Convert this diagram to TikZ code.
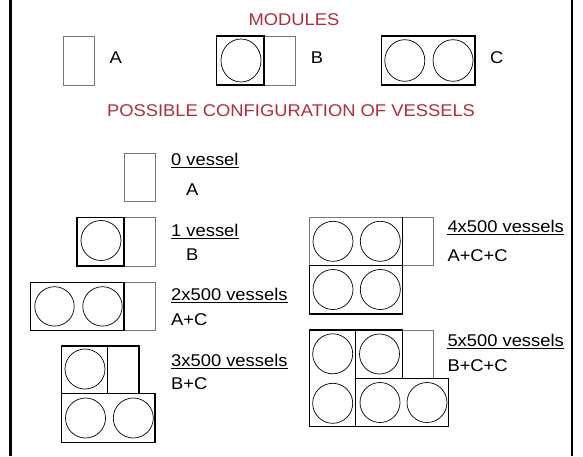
\documentclass[tikz,border=0pt]{standalone}
\usepackage{fontspec}
\setmainfont[FakeStretch=1.08]{Liberation Sans}
\definecolor{ttlred}{RGB}{178,44,62}
\definecolor{boxgray}{RGB}{120,120,120}
\tikzset{
  modbox/.style={draw=black, line width=1.3pt},
  abox/.style={draw=boxgray, line width=0.9pt},
  vessel/.style={draw=black, line width=0.7pt},
  lbl/.style={font=\fontsize{17}{20}\selectfont, anchor=base west, inner sep=0pt},
  ttl/.style={font=\fontsize{17}{20}\selectfont, anchor=base, inner sep=0pt, text=ttlred},
  frame/.style={draw=black, line width=2.4pt}
}
\begin{document}
\begin{tikzpicture}[x=1pt,y=-1pt]
\useasboundingbox (0,0) rectangle (583,456);
% frame
\coordinate (fl1) at (10.5,0); \coordinate (fl2) at (10.5,456);
\coordinate (fr1) at (572,0); \coordinate (fr2) at (572,456);
\draw[frame] (fl1) -- (fl2);
\draw[frame] (fr1) -- (fr2);

% titles
\node[ttl] (tmod) at (294,25) {MODULES};
\node[ttl] (tconf) at (291,116.5) {POSSIBLE CONFIGURATION OF VESSELS};

% modules row
\draw[abox] (63.3,36) rectangle (94.3,85);
\node[lbl] (mA) at (109.3,63.3) {A};

\draw[abox] (264,36) rectangle (295,85);
\draw[modbox] (216.7,36) rectangle (264,85);
\draw[vessel] (241,60.5) ellipse [x radius=20, y radius=21.5];
\node[lbl] (mB) at (310.7,63.3) {B};

\draw[modbox] (381.8,36) rectangle (475,85);
\draw[vessel] (404.8,60.5) ellipse [x radius=20, y radius=20.8];
\draw[vessel] (453,60.5) ellipse [x radius=20, y radius=20.8];
\node[lbl] (mC) at (490,63.3) {C};

% 0 vessel
\draw[abox] (124,153.3) rectangle (155,201.7);
\node[lbl] (l0) at (171,165.5) {0 vessel};
\draw[line width=0.8pt] ([yshift=-2pt]l0.base west) -- ([yshift=-2pt]l0.base east);
\node[lbl] (l0b) at (186,195) {A};

% 1 vessel
\draw[abox] (124,217.7) rectangle (155,266);
\draw[modbox] (77,217.7) rectangle (124,266);
\draw[vessel] (101,240.5) circle [radius=20];
\node[lbl] (l1) at (171,236) {1 vessel};
\draw[line width=0.8pt] ([yshift=-2pt]l1.base west) -- ([yshift=-2pt]l1.base east);
\node[lbl] (l1b) at (186,260) {B};

% 2x500
\draw[abox] (124,282.3) rectangle (155,330.5);
\draw[modbox] (30.7,282.3) rectangle (124,330.5);
\draw[vessel] (54.5,306.4) circle [radius=19.7];
\draw[vessel] (102.5,306.4) circle [radius=19.7];
\node[lbl] (l2) at (171,300) {2x500 vessels};
\draw[line width=0.8pt] ([yshift=-2pt]l2.base west) -- ([yshift=-2pt]l2.base east);
\node[lbl] (l2b) at (171,325) {A+C};

% 3x500
\draw[modbox] (107.7,346) rectangle (139,393.3);
\draw[modbox] (61.7,346) rectangle (107.7,393.3);
\draw[modbox] (61.7,393.3) rectangle (155,442.7);
\draw[vessel] (85,369) circle [radius=20];
\draw[vessel] (85.5,418) circle [radius=20];
\draw[vessel] (133.3,418) circle [radius=20];
\node[lbl] (l3) at (171,366.7) {3x500 vessels};
\draw[line width=0.8pt] ([yshift=-2pt]l3.base west) -- ([yshift=-2pt]l3.base east);
\node[lbl] (l3b) at (171,389.3) {B+C};

% 4x500
\draw[abox] (402.3,217.3) rectangle (433.3,265.7);
\draw[abox] (309.3,217.3) rectangle (402.3,265.7);
\draw[modbox] (402.3,217.3) -- (402.3,265.7);
\draw[modbox] (309.3,265.7) rectangle (402.3,314);
\draw[vessel] (333,241.3) circle [radius=20];
\draw[vessel] (380.3,241.3) circle [radius=20];
\draw[vessel] (333,289.5) circle [radius=20];
\draw[vessel] (380.3,289.5) circle [radius=20];
\node[lbl] (l4) at (447.3,232.7) {4x500 vessels};
\draw[line width=0.8pt] ([yshift=-2pt]l4.base west) -- ([yshift=-2pt]l4.base east);
\node[lbl] (l4b) at (447.3,261) {A+C+C};

% 5x500
\draw[abox] (402.3,330) rectangle (433.3,378.3);
\draw[modbox] (355.7,330) rectangle (402.3,378.3);
\draw[modbox] (309.3,330) rectangle (355.7,426.7);
\draw[modbox] (355.7,378.3) rectangle (448.3,426.7);
\draw[vessel] (332.7,353.8) circle [radius=20];
\draw[vessel] (332.7,403.3) circle [radius=20];
\draw[vessel] (379.5,354) circle [radius=20];
\draw[vessel] (380,402.5) circle [radius=20];
\draw[vessel] (427,402.5) circle [radius=20];
\node[lbl] (l5) at (447.3,346.7) {5x500 vessels};
\draw[line width=0.8pt] ([yshift=-2pt]l5.base west) -- ([yshift=-2pt]l5.base east);
\node[lbl] (l5b) at (447.3,371.7) {B+C+C};
\end{tikzpicture}
\end{document}
